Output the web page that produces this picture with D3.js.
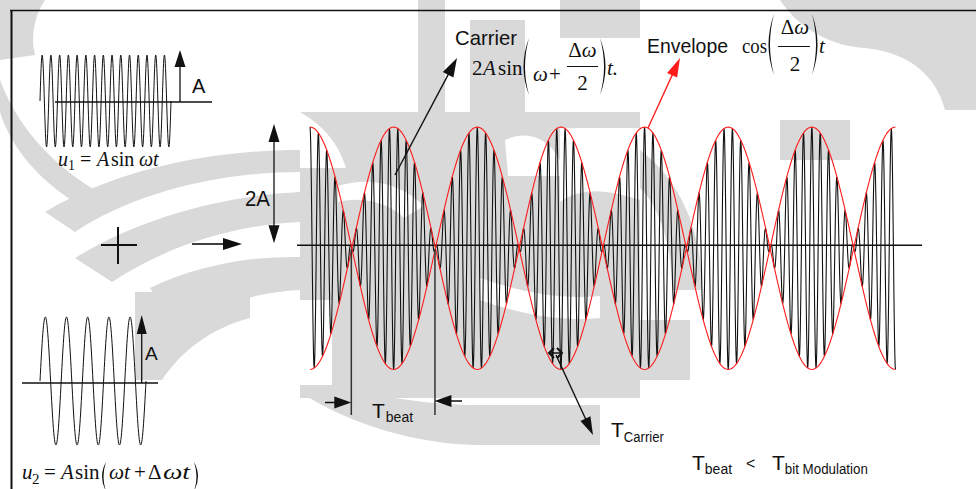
<!DOCTYPE html>
<html>
<head>
<meta charset="utf-8">
<script src="https://cdn.jsdelivr.net/npm/d3@7/dist/d3.min.js"></script>
<style>
  html, body { margin: 0; padding: 0; background: #fff; }
  svg { display: block; }
</style>
</head>
<body>
<svg id="chart" width="976" height="489"></svg>
<script>
// ---- signal parameters ----
const mainBeats = [0, 7];              // span of the summed signal, in beat periods
const carrierCyclesPerBeat = [10];     // carrier oscillations per beat period
const u1Cycles = [0, 15];              // cycles drawn for u1
const u2Cycles = [0, 5];               // cycles drawn for u2
const amplitudeDomain = [-1, 1];

// ---- text ----
const carrierLabel = ["Carrier"];
const envelopeLabel = ["Envelope"];
const beatLabel = ["T", "beat"];
const carrierPeriodLabel = ["T", "Carrier"];
const conditionLabel = ["T", "beat", "<", "T", "bit Modulation"];

const SANS = '"Liberation Sans", Arial, sans-serif';
const SERIF = '"Liberation Serif", "Times New Roman", serif';
const GRAY = "#d9d9d9";
const INK = "#111";

const svg = d3.select("#chart");

// ---- light background emblem ----
const emblem = svg.append("g");
const emblemGray = [
  "M0,0 H45 C35,15 30,35 35,55 L0,60 Z",
  "M0,80 C15,120 45,160 95,190 L80,205 C35,180 8,140 0,112 Z",
  "M45,212 C115,170 210,150 300,150 L300,172 C215,172 130,195 75,232 Z",
  "M75,258 C145,215 232,195 300,192 L300,222 C235,225 168,245 112,282 Z",
  "M150,288 C200,264 255,256 300,257 L300,290 C255,292 212,306 178,330 Z",
  "M135,292 H250 V318 C212,328 182,350 162,380 H135 Z",
  "M300,112 H640 V398 H300 Z",
  "M300,392 C350,425 420,445 480,445 H600 V405 H480 C420,405 360,395 300,372 Z",
  "M640,150 C680,180 702,230 702,290 L672,290 C672,242 658,205 640,188 Z",
  "M600,320 H690 V380 H600 Z",
  "M418,0 H445 V112 H418 Z",
  "M470,20 H525 V112 H470 Z",
  "M560,0 H640 V38 H560 Z",
  "M780,0 H976 V110 H945 C935,72 905,52 865,48 C832,46 800,30 780,0 Z",
  "M780,120 H850 V160 H780 Z"
];
const emblemWhite = [
  "M300,112 C322,125 338,142 346,168 L300,168 Z",
  "M338,186 C370,176 402,184 424,206 L404,218 C388,202 362,196 338,202 Z",
  "M505,140 C530,128 556,140 566,176 L508,176 Z",
  "M560,128 H640 V200 C610,190 582,186 560,202 Z",
  "M300,300 H332 V385 H300 Z",
  "M480,278 C520,292 560,300 600,296 L600,318 C560,322 520,314 480,300 Z"
];
emblem.selectAll("path.g").data(emblemGray).join("path").attr("class", "g")
  .attr("d", d => d).attr("fill", GRAY);
emblem.selectAll("path.w").data(emblemWhite).join("path").attr("class", "w")
  .attr("d", d => d).attr("fill", "#fff");

// ---- frame ----
svg.append("line").attr("x1", 10).attr("x2", 976).attr("y1", 10.5).attr("y2", 10.5)
  .attr("stroke", INK).attr("stroke-width", 1.5);
svg.append("line").attr("x1", 11.5).attr("x2", 11.5).attr("y1", 10).attr("y2", 489)
  .attr("stroke", INK).attr("stroke-width", 2);

// ---- helpers ----
function arrow(g, x1, y1, x2, y2, opt = {}) {
  const color = opt.color || INK;
  const len = opt.len || 17, half = opt.half || 5.5, w = opt.width || 1.3;
  const dx = x2 - x1, dy = y2 - y1, L = Math.hypot(dx, dy);
  const ux = dx / L, uy = dy / L;
  const bx = x2 - ux * len, by = y2 - uy * len;
  g.append("line").attr("x1", x1).attr("y1", y1).attr("x2", bx + ux).attr("y2", by + uy)
    .attr("stroke", color).attr("stroke-width", w);
  g.append("path")
    .attr("d", `M${x2},${y2} L${bx - uy * half},${by + ux * half} L${bx + uy * half},${by - ux * half} Z`)
    .attr("fill", color);
}
// tall bracket drawn as a thin crescent; x is the tip line, side = -1 for "(", +1 for ")"
function paren(g, x, y0, y1, side, bulge = 11) {
  const mid = (y0 + y1) / 2, t = 3;
  const cx = x + side * bulge, ci = x + side * (bulge - t);
  g.append("path")
    .attr("d", `M${x},${y0} Q${cx},${mid} ${x},${y1} Q${ci},${mid} ${x},${y0} Z`)
    .attr("fill", INK);
}
function sampled(domain, perUnit) {
  const n = Math.round((domain[1] - domain[0]) * perUnit);
  return d3.range(n + 1).map(i => domain[0] + (domain[1] - domain[0]) * i / n);
}
function mathText(g, x, y, str, opt = {}) {
  const t = g.append("text").attr("x", x).attr("y", y).attr("font-family", SERIF)
    .attr("font-size", opt.size || 20).attr("font-style", opt.italic ? "italic" : "normal")
    .attr("text-anchor", opt.anchor || "start").attr("fill", INK).text(str);
  if (opt.width) t.attr("textLength", opt.width).attr("lengthAdjust", "spacingAndGlyphs");
  return t;
}

// ---- u1 = A sin(wt) ----
const gU1 = svg.append("g");
const xU1 = d3.scaleLinear().domain(u1Cycles).range([40, 171]);
const yU1 = d3.scaleLinear().domain(amplitudeDomain).range([147, 55]);
gU1.append("path")
  .datum(sampled(u1Cycles, 40))
  .attr("fill", "none").attr("stroke", INK).attr("stroke-width", 1)
  .attr("d", d3.line().x(t => xU1(t)).y(t => yU1(Math.sin(2 * Math.PI * t))));
gU1.append("line").attr("x1", 55).attr("x2", 212).attr("y1", yU1(0) + 1).attr("y2", yU1(0) + 1)
  .attr("stroke", INK).attr("stroke-width", 1.5);
arrow(gU1, 180, yU1(0) + 1, 180, yU1(1) - 5, { len: 17, half: 5.5 });
gU1.append("text").attr("x", 192).attr("y", 93).attr("font-family", SANS).attr("font-size", 20)
  .attr("fill", INK).text("A");
mathText(gU1, 58, 166, "u", { italic: true });
mathText(gU1, 68, 170, "1", { size: 14 });
mathText(gU1, 80, 166, "=");
mathText(gU1, 97, 166, "A", { italic: true });
mathText(gU1, 111, 166, "sin");
mathText(gU1, 139, 166, "ωt", { italic: true });

// ---- u2 = A sin(wt + dwt) ----
const gU2 = svg.append("g");
const xU2 = d3.scaleLinear().domain(u2Cycles).range([40, 146]);
const yU2 = d3.scaleLinear().domain(amplitudeDomain).range([445, 317]);
gU2.append("path")
  .datum(sampled(u2Cycles, 60))
  .attr("fill", "none").attr("stroke", INK).attr("stroke-width", 1)
  .attr("d", d3.line().x(t => xU2(t)).y(t => yU2(Math.sin(2 * Math.PI * t))));
gU2.append("line").attr("x1", 22).attr("x2", 158).attr("y1", yU2(0) + 2).attr("y2", yU2(0) + 2)
  .attr("stroke", INK).attr("stroke-width", 1.5);
arrow(gU2, 141.7, yU2(0) + 2, 141.7, yU2(1) - 2, { len: 19, half: 5 });
gU2.append("text").attr("x", 145).attr("y", 360).attr("font-family", SANS).attr("font-size", 19)
  .attr("fill", INK).text("A");
mathText(gU2, 22, 479, "u", { italic: true, size: 21 });
mathText(gU2, 32, 484, "2", { size: 15 });
mathText(gU2, 44, 479, "=", { size: 21 });
mathText(gU2, 61, 479, "A", { italic: true, size: 21 });
mathText(gU2, 75, 479, "sin", { size: 21 });
paren(gU2, 106, 462, 491, -1, 8);
mathText(gU2, 109, 479, "ωt", { italic: true, size: 21, width: 21 });
mathText(gU2, 134, 479, "+", { size: 21 });
mathText(gU2, 148, 479, "Δ", { size: 21 });
mathText(gU2, 163, 479, "ωt", { italic: true, size: 21, width: 27 });
paren(gU2, 194, 462, 491, 1, 8);

// ---- plus sign and flow arrow ----
const gMid = svg.append("g");
gMid.append("line").attr("x1", 101).attr("x2", 137).attr("y1", 245).attr("y2", 245)
  .attr("stroke", INK).attr("stroke-width", 2);
gMid.append("line").attr("x1", 118).attr("x2", 118).attr("y1", 227).attr("y2", 264)
  .attr("stroke", INK).attr("stroke-width", 2);
arrow(gMid, 192, 244, 242, 244, { len: 19, half: 6, width: 1.6 });

// ---- summed signal ----
const xMain = d3.scaleLinear().domain(mainBeats).range([310, 895.5]);
const yMain = d3.scaleLinear().domain(amplitudeDomain).range([369.5, 127]);
const axisY = yMain(0) - 3;
const gMain = svg.append("g");

// 2A amplitude marker
arrow(gMain, 274, 184, 274, yMain(1) - 3, { len: 18, half: 5.5 });
arrow(gMain, 274, 184, 274, axisY - 2, { len: 18, half: 5.5 });
gMain.append("text").attr("x", 245).attr("y", 206).attr("font-family", SANS).attr("font-size", 22)
  .attr("textLength", 25).attr("lengthAdjust", "spacingAndGlyphs").attr("fill", INK).text("2A");

const fc = carrierCyclesPerBeat[0];
const tMain = sampled(mainBeats, fc * 26);
gMain.append("path")
  .datum(tMain)
  .attr("fill", "none").attr("stroke", INK).attr("stroke-width", 1.1)
  .attr("d", d3.line().x(t => xMain(t)).y(t => yMain(Math.cos(Math.PI * t) * Math.cos(2 * Math.PI * fc * t))));

gMain.append("line").attr("x1", 297).attr("x2", 922).attr("y1", axisY).attr("y2", axisY)
  .attr("stroke", INK).attr("stroke-width", 1.5);

const tEnv = sampled(mainBeats, 60);
[1, -1].forEach(sign => {
  gMain.append("path")
    .datum(tEnv)
    .attr("fill", "none").attr("stroke", "#ff1a1a").attr("stroke-width", 1.1)
    .attr("d", d3.line().x(t => xMain(t)).y(t => yMain(sign * Math.cos(Math.PI * t))));
});

// ---- beat period markers ----
const gBeat = svg.append("g");
[0.5, 1.5].forEach(t => {
  gBeat.append("line").attr("x1", xMain(t) - 0.5).attr("x2", xMain(t) - 0.5)
    .attr("y1", axisY + 4).attr("y2", 415)
    .attr("stroke", "#333").attr("stroke-width", 1.5);
});
arrow(gBeat, 325, 402.5, xMain(0.5) - 0.5, 402.5, { len: 17, half: 6, width: 1.5 });
arrow(gBeat, 462, 401, xMain(1.5) - 1, 401, { len: 17, half: 6, width: 1.5 });
const tb = gBeat.append("text").attr("x", 372).attr("y", 418).attr("font-family", SANS)
  .attr("font-size", 21).attr("fill", INK);
tb.append("tspan").text(beatLabel[0]);
tb.append("tspan").attr("font-size", 14).attr("dy", 4).attr("dx", 1).text(beatLabel[1]);

// ---- carrier period marker ----
const gCar = svg.append("g");
const cy = 353;
gCar.append("line").attr("x1", 549).attr("x2", 562).attr("y1", cy).attr("y2", cy)
  .attr("stroke", INK).attr("stroke-width", 1.5);
gCar.append("path").attr("d", `M554,${cy - 5} L549,${cy} L554,${cy + 5} M557,${cy - 5} L562,${cy} L557,${cy + 5}`)
  .attr("fill", "none").attr("stroke", INK).attr("stroke-width", 2);
arrow(gCar, 556, 355, 593, 435, { len: 18, half: 5.5, width: 1.4 });
const tc = gCar.append("text").attr("x", 611).attr("y", 437).attr("font-family", SANS)
  .attr("font-size", 21).attr("fill", INK);
tc.append("tspan").text(carrierPeriodLabel[0]);
tc.append("tspan").attr("font-size", 14).attr("dy", 5).attr("textLength", 40)
  .attr("lengthAdjust", "spacingAndGlyphs").text(carrierPeriodLabel[1]);

// ---- carrier annotation ----
const gCarrier = svg.append("g");
arrow(gCarrier, 395, 175, 457, 58, { len: 19, half: 6, width: 1.4 });
gCarrier.append("text").attr("x", 455).attr("y", 45).attr("font-family", SANS).attr("font-size", 21)
  .attr("textLength", 62).attr("lengthAdjust", "spacingAndGlyphs").attr("fill", INK).text(carrierLabel[0]);
mathText(gCarrier, 472, 75, "2", { size: 21 });
mathText(gCarrier, 483, 75, "A", { size: 21, italic: true });
mathText(gCarrier, 498, 75, "sin", { size: 21 });
paren(gCarrier, 529, 38, 95, -1);
mathText(gCarrier, 533, 81, "ω", { size: 21, italic: true });
mathText(gCarrier, 549, 81, "+", { size: 21 });
gCarrier.append("text").attr("x", 582.5).attr("y", 57).attr("text-anchor", "middle").attr("font-family", SERIF)
  .attr("font-size", 21).attr("fill", INK)
  .call(t => { t.append("tspan").text("Δ"); t.append("tspan").attr("font-style", "italic").text("ω"); });
gCarrier.append("line").attr("x1", 567).attr("x2", 598).attr("y1", 66.5).attr("y2", 66.5)
  .attr("stroke", INK).attr("stroke-width", 1);
mathText(gCarrier, 582.5, 90, "2", { size: 21, anchor: "middle" });
paren(gCarrier, 600, 38, 95, 1);
mathText(gCarrier, 607, 75, "t.", { size: 21, italic: true });

// ---- envelope annotation ----
const gEnv = svg.append("g");
arrow(gEnv, 648, 128, 680, 58, { len: 19, half: 5.5, width: 1.3, color: "#ff1a1a" });
gEnv.append("text").attr("x", 647).attr("y", 53).attr("font-family", SANS).attr("font-size", 21)
  .attr("textLength", 81).attr("lengthAdjust", "spacingAndGlyphs").attr("fill", INK).text(envelopeLabel[0]);
gEnv.append("text").attr("x", 742).attr("y", 53).attr("font-family", SERIF).attr("font-size", 20)
  .attr("textLength", 25).attr("lengthAdjust", "spacingAndGlyphs").attr("fill", INK).text("cos");
paren(gEnv, 774, 14, 75, -1);
gEnv.append("text").attr("x", 795).attr("y", 34).attr("text-anchor", "middle").attr("font-family", SERIF)
  .attr("font-size", 21).attr("fill", INK)
  .call(t => { t.append("tspan").text("Δ"); t.append("tspan").attr("font-style", "italic").text("ω"); });
gEnv.append("line").attr("x1", 778).attr("x2", 810).attr("y1", 46.5).attr("y2", 46.5)
  .attr("stroke", INK).attr("stroke-width", 1);
mathText(gEnv, 795, 71, "2", { size: 21, anchor: "middle" });
paren(gEnv, 812, 14, 75, 1);
mathText(gEnv, 819, 53, "t", { size: 21, italic: true });

// ---- condition ----
const gCond = svg.append("g").attr("font-family", SANS).attr("fill", INK);
const c1 = gCond.append("text").attr("x", 692).attr("y", 470).attr("font-size", 21);
c1.append("tspan").text(conditionLabel[0]);
c1.append("tspan").attr("font-size", 14).attr("dy", 4).text(conditionLabel[1]);
gCond.append("text").attr("x", 746).attr("y", 469).attr("font-size", 16).text(conditionLabel[2]);
const c2 = gCond.append("text").attr("x", 772).attr("y", 470).attr("font-size", 21);
c2.append("tspan").text(conditionLabel[3]);
c2.append("tspan").attr("font-size", 14).attr("dy", 4).attr("textLength", 83)
  .attr("lengthAdjust", "spacingAndGlyphs").text(conditionLabel[4]);
</script>
</body>
</html>
